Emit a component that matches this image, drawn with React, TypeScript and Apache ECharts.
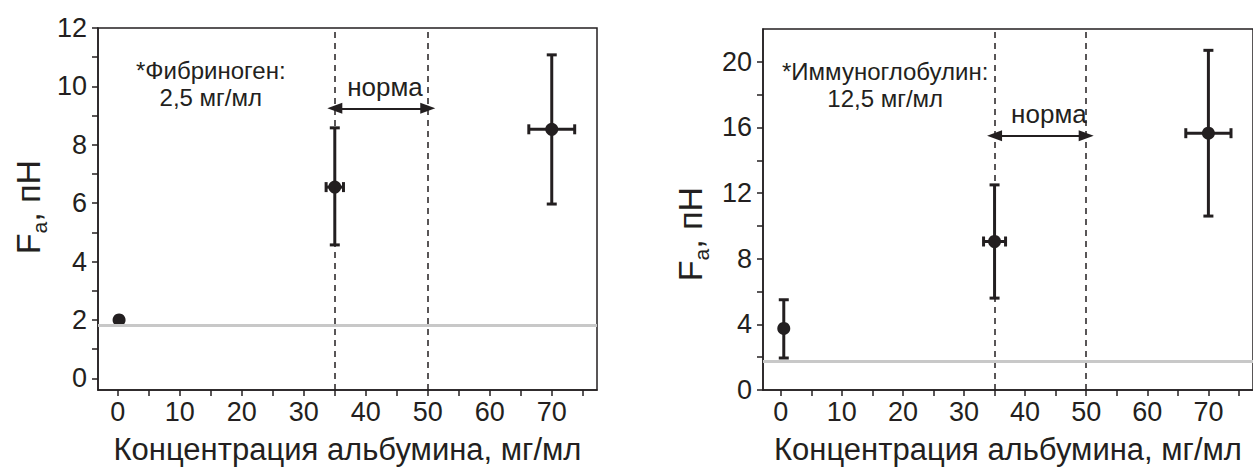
import React, { useEffect, useRef } from "react";
import * as echarts from "echarts";

// ---- data ----
const fibX = [0.2, 35, 70];
const fibY = [2.0, 6.55, 8.53];
const fibYLo = [2.0, 4.57, 5.97];
const fibYHi = [2.0, 8.58, 11.08];
const fibXErr = [0, 1.4, 3.7];

const igX = [0.5, 35, 70];
const igY = [3.75, 9.05, 15.65];
const igYLo = [1.95, 5.6, 10.6];
const igYHi = [5.5, 12.5, 20.7];
const igXErr = [0, 1.8, 3.7];

const normaRange = [35, 50];
const fibBaseline = 1.83;
const igBaseline = 1.75;

const xLabels = [0, 10, 20, 30, 40, 50, 60, 70];
const xTicks = [0, 5, 10, 15, 20, 25, 30, 35, 40, 45, 50, 55, 60, 65, 70, 75];
const fibYLabels = [0, 2, 4, 6, 8, 10, 12];
const fibYTicks = [0, 1, 2, 3, 4, 5, 6, 7, 8, 9, 10, 11, 12];
const igYLabels = [0, 4, 8, 12, 16, 20];
const igYTicks = [0, 2, 4, 6, 8, 10, 12, 14, 16, 18, 20];

const xTitle = "Концентрация альбумина, мг/мл";
const fibNote = "*Фибриноген:\n2,5 мг/мл";
const igNote = "*Иммуноглобулин:\n12,5 мг/мл";
const normaText = "норма";

const INK = "#231f20";
const FONT = '"Liberation Sans", Arial, sans-serif';

function errRender(params: any, api: any) {
  const x = api.value(0), y = api.value(1), lo = api.value(2), hi = api.value(3), xe = api.value(4);
  const style = { stroke: INK, lineWidth: 3 };
  const children: any[] = [];
  const cap = 5;
  if (hi > lo) {
    const t = api.coord([x, hi]);
    const b = api.coord([x, lo]);
    children.push({ type: "line", shape: { x1: t[0], y1: t[1], x2: b[0], y2: b[1] }, style });
    children.push({ type: "line", shape: { x1: t[0] - cap, y1: t[1], x2: t[0] + cap, y2: t[1] }, style });
    children.push({ type: "line", shape: { x1: b[0] - cap, y1: b[1], x2: b[0] + cap, y2: b[1] }, style });
  }
  if (xe > 0) {
    const l = api.coord([x - xe, y]);
    const r = api.coord([x + xe, y]);
    children.push({ type: "line", shape: { x1: l[0], y1: l[1], x2: r[0], y2: r[1] }, style });
    children.push({ type: "line", shape: { x1: l[0], y1: l[1] - cap, x2: l[0], y2: l[1] + cap }, style });
    children.push({ type: "line", shape: { x1: r[0], y1: r[1] - cap, x2: r[0], y2: r[1] + cap }, style });
  }
  return { type: "group", children };
}

function zipErr(x: number[], y: number[], lo: number[], hi: number[], xe: number[]) {
  return x.map((v, i) => [v, y[i], lo[i], hi[i], xe[i]]);
}

function yTitle(x: number, y: number) {
  return {
    type: "text", x, y, rotation: Math.PI / 2,
    style: {
      text: "{f|F}{s|a}{f|, пН}", align: "center", verticalAlign: "middle",
      fill: INK, fontFamily: FONT,
      rich: {
        f: { fontSize: 34, fontFamily: FONT, fill: INK, lineHeight: 44, verticalAlign: "middle" },
        s: { fontSize: 21, fontFamily: FONT, fill: INK, lineHeight: 21, verticalAlign: "bottom" },
      },
    },
  };
}

export default function App() {
  const ref = useRef<HTMLDivElement>(null);
  useEffect(() => {
    if (!ref.current) return;
    const chart = echarts.init(ref.current, undefined, { renderer: "svg" });

    const axisLine = { show: true, onZero: false, lineStyle: { color: INK, width: 1.5 } };
    const labelStyle = { color: INK, fontSize: 27, fontFamily: FONT };

    const mkX = (grid: number, min: number, max: number) => ({
      type: "value", gridIndex: grid, min, max, position: "bottom",
      axisLine, splitLine: { show: false },
      axisTick: { show: true, customValues: xTicks, length: 6, lineStyle: { color: INK, width: 1.5 } },
      axisLabel: { ...labelStyle, customValues: xLabels, margin: 8 },
      name: xTitle, nameLocation: "middle", nameGap: 44,
      nameTextStyle: { color: INK, fontSize: 31, fontFamily: FONT },
    });
    const mkY = (grid: number, min: number, max: number, labels: number[], ticks: number[]) => ({
      type: "value", gridIndex: grid, min, max, position: "left",
      axisLine, splitLine: { show: false },
      axisTick: { show: true, customValues: ticks, length: 6, lineStyle: { color: INK, width: 1.5 } },
      axisLabel: { ...labelStyle, customValues: labels, margin: 11 },
    });

    const noteLabel = {
      show: true, color: INK, fontSize: 24, fontFamily: FONT, lineHeight: 27, align: "center",
    };

    const overlay = (xi: number, yi: number, note: string, noteCoord: number[], normaY: number, normaLabelY: number, base: number, normaX: number) => ({
      type: "scatter", xAxisIndex: xi, yAxisIndex: yi, data: [], silent: true,
      markLine: {
        silent: true, symbol: "none", animation: false,
        label: { show: false },
        data: [
          { xAxis: normaRange[0], lineStyle: { color: INK, type: [6, 5], width: 1.5 } },
          { xAxis: normaRange[1], lineStyle: { color: INK, type: [6, 5], width: 1.5 } },
          { yAxis: base, lineStyle: { color: "#c8c8c8", type: "solid", width: 3 } },
          [
            { coord: [normaRange[0], normaY], symbol: "triangle", symbolSize: [11, 15],
              lineStyle: { color: INK, type: "solid", width: 2 }, itemStyle: { color: INK } },
            { coord: [normaRange[1], normaY], symbol: "triangle", symbolSize: [11, 15], itemStyle: { color: INK } },
          ],
        ],
      },
      markPoint: {
        silent: true, symbol: "circle", symbolSize: 0, animation: false,
        data: [
          { coord: noteCoord, label: { ...noteLabel, formatter: note } },
          { coord: [normaX, normaLabelY], label: { ...noteLabel, formatter: normaText, fontSize: 26 } },
        ],
      },
    });

    const option: any = {
      animation: false,
      grid: [
        { left: 98, top: 28, width: 499, height: 366, show: true, borderColor: INK, borderWidth: 1.5, backgroundColor: "transparent" },
        { left: 763, top: 29, width: 502, height: 365, show: true, borderColor: INK, borderWidth: 1.5, backgroundColor: "transparent" },
      ],
      xAxis: [mkX(0, -3.2, 77.3), mkX(1, -2.9, 77.3)],
      yAxis: [mkY(0, -0.4, 12, fibYLabels, fibYTicks), mkY(1, 0, 22, igYLabels, igYTicks)],
      graphic: [yTitle(28, 207), yTitle(690, 234)],
      series: [
        overlay(0, 0, fibNote, [15, 10.08], 9.25, 9.97, fibBaseline, 43.1),
        overlay(1, 1, igNote, [17.1, 18.58], 15.5, 16.8, igBaseline, 43.9),
        {
          type: "custom", xAxisIndex: 0, yAxisIndex: 0, renderItem: errRender,
          data: zipErr(fibX, fibY, fibYLo, fibYHi, fibXErr), z: 3,
        },
        {
          type: "custom", xAxisIndex: 1, yAxisIndex: 1, renderItem: errRender,
          data: zipErr(igX, igY, igYLo, igYHi, igXErr), z: 3,
        },
        {
          type: "scatter", xAxisIndex: 0, yAxisIndex: 0, symbolSize: 13, z: 4,
          itemStyle: { color: INK, opacity: 1 },
          data: fibX.map((v, i) => [v, fibY[i]]),
        },
        {
          type: "scatter", xAxisIndex: 1, yAxisIndex: 1, symbolSize: 13, z: 4,
          itemStyle: { color: INK, opacity: 1 },
          data: igX.map((v, i) => [v, igY[i]]),
        },
      ],
    };
    chart.setOption(option);
    return () => chart.dispose();
  }, []);
  return (
    <div
      ref={ref}
      style={{ position: "fixed", left: 0, top: 0, width: 1253, height: 470, background: "#fff" }}
    />
  );
}
